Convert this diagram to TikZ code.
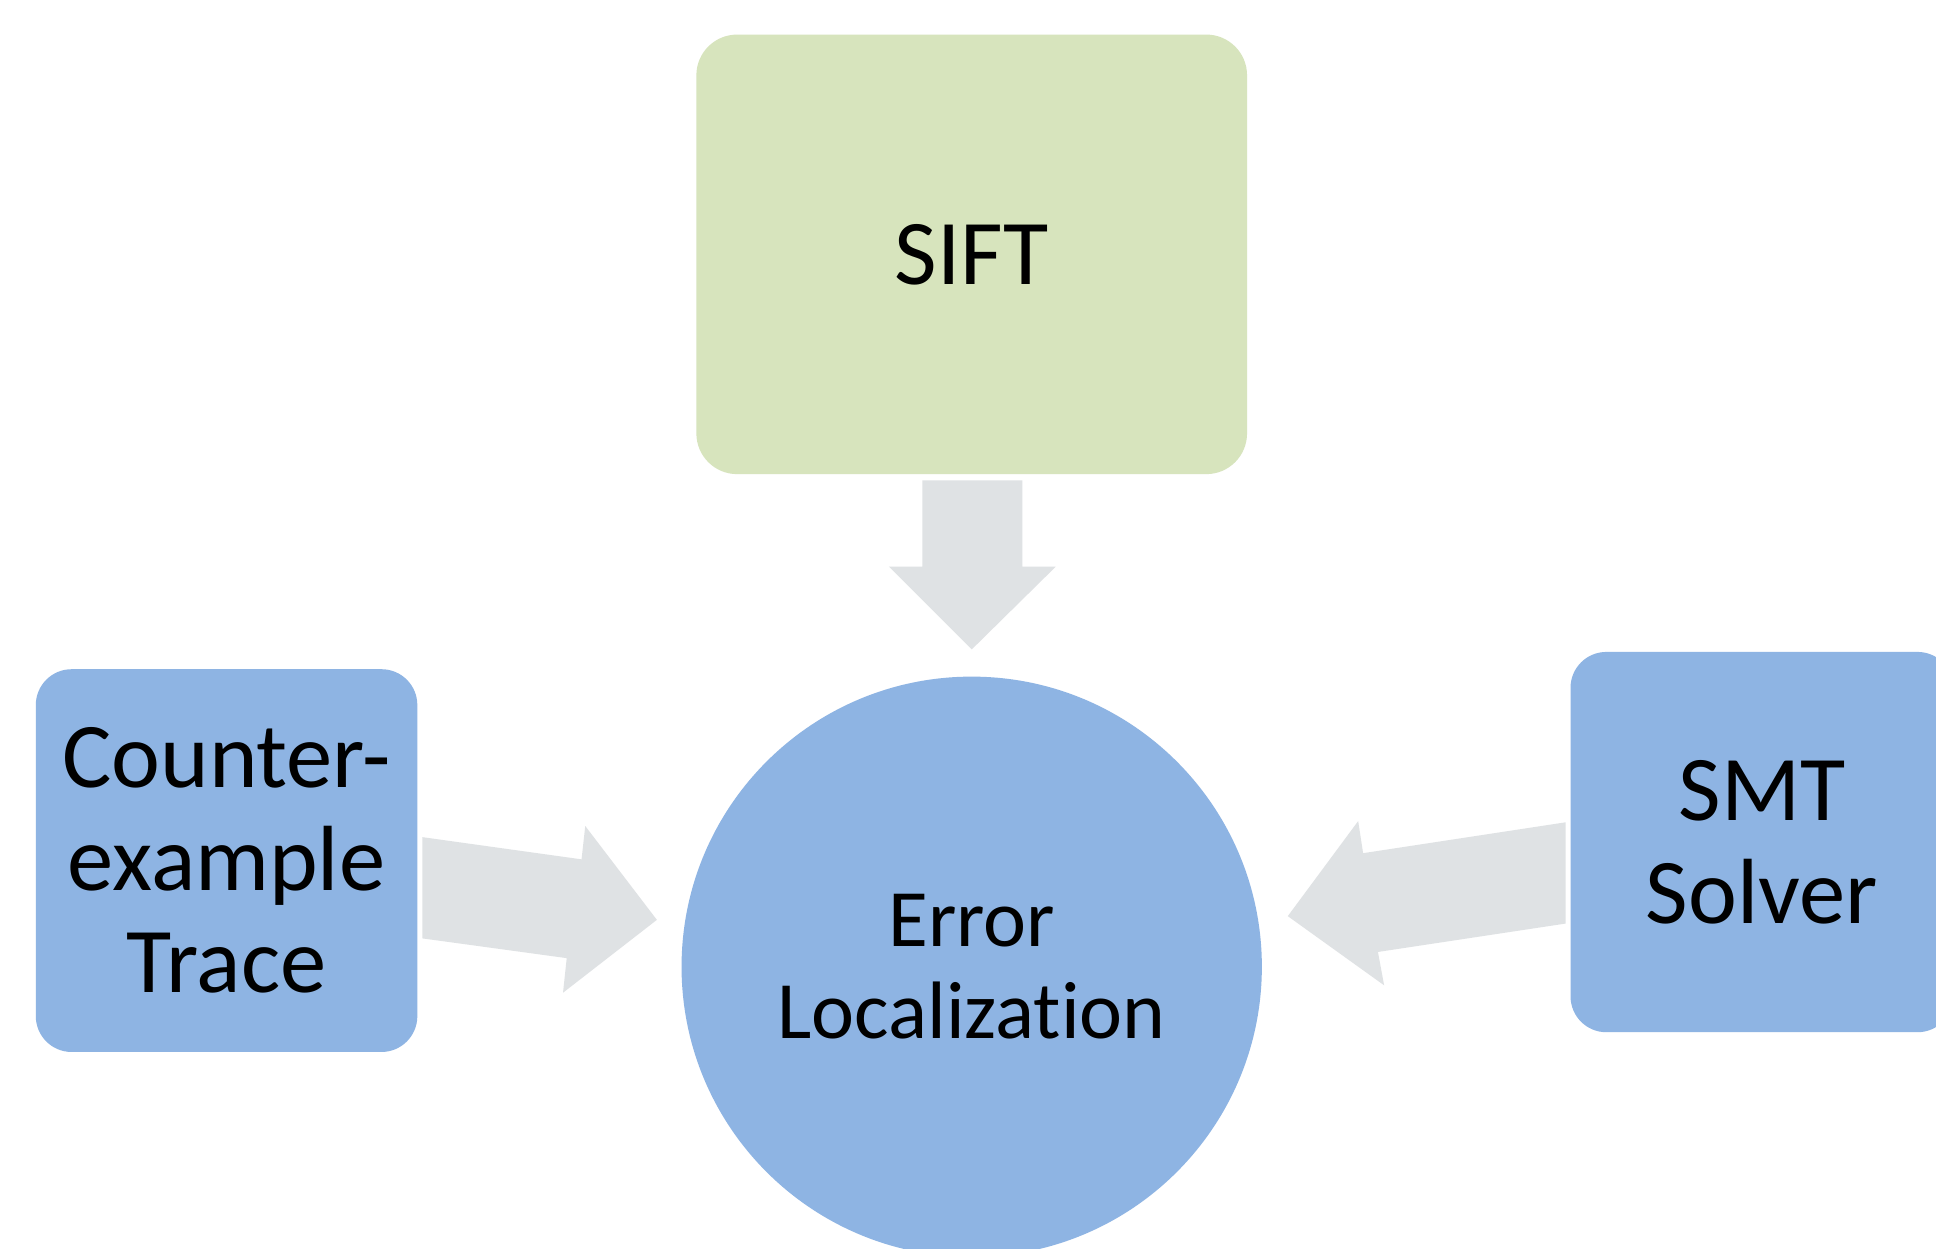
\documentclass[tikz,border=0pt]{standalone}
\usepackage{fontspec}
\setmainfont{Carlito}[Ligatures={NoCommon,NoRare,NoContextual},Contextuals=NoAlternate]
\definecolor{boxblue}{HTML}{8EB4E3}
\definecolor{boxgreen}{HTML}{D7E4BD}
\definecolor{arrowgray}{HTML}{DFE2E4}
\begin{document}
\begin{tikzpicture}[x=1pt,y=-1pt,
  roundbox/.style={rectangle, rounded corners=29pt, draw=none, inner sep=0pt, align=center,
    font=\fontsize{75}{83}\selectfont},
  bluebox/.style={roundbox, fill=boxblue},
  greenbox/.style={roundbox, fill=boxgreen, rounded corners=33pt},
  centre/.style={circle, fill=boxblue, draw=none, inner sep=0pt, minimum size=470pt, align=center,
    font=\fontsize{66}{74}\selectfont},
  blockarrow/.style={fill=arrowgray, draw=none}]
\useasboundingbox (0,0) rectangle (1568,1011);
\clip (0,0) rectangle (1568,1011);
\fill[white] (0,0) rectangle (1568,1011);

\node[greenbox, minimum width=446pt, minimum height=356pt] (sift) at (787,206) {SIFT};
\node[bluebox, minimum width=309pt, minimum height=310pt] (trace) at (183.5,697) {Counter-\\example\\Trace};
\node[bluebox, minimum width=310pt, minimum height=308pt] (smt) at (1427,682) {SMT\\Solver};
\node[centre] (err) at (787,783) {Error\\Localization};

% block arrows
\fill[blockarrow] (747,389) -- (828,389) -- (828,459) -- (855,459) -- (787,526) -- (720,459) -- (747,459) -- cycle;
\fill[blockarrow] (342,678) -- (471,696) -- (474,669) -- (532,745) -- (456,804) -- (459,776) -- (342,760) -- cycle;
\fill[blockarrow] (1268,666) -- (1104,691) -- (1100,665) -- (1043,742) -- (1121,798) -- (1116,771) -- (1268,748) -- cycle;
\end{tikzpicture}
\end{document}
